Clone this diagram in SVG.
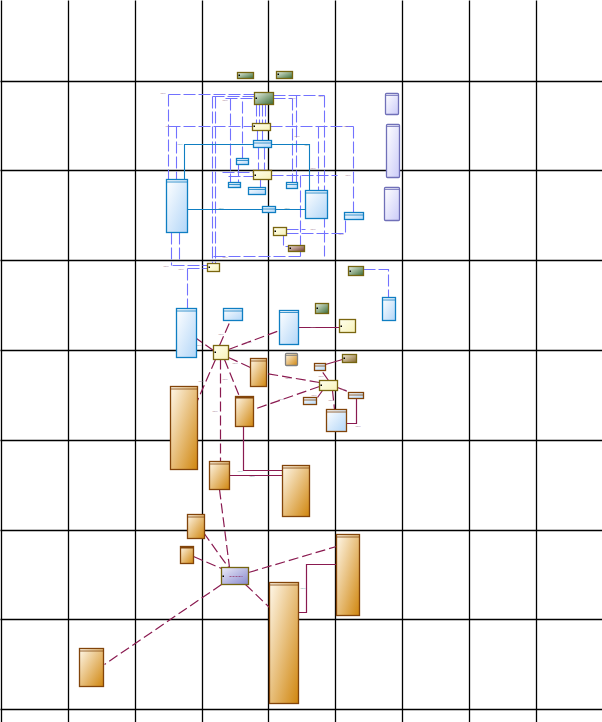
<svg xmlns="http://www.w3.org/2000/svg" width="602" height="722" viewBox="0 0 602 722">
<defs>
<linearGradient id="gBlue" x1="0" y1="0" x2="1" y2="1"><stop offset="0" stop-color="#ffffff"/><stop offset="1" stop-color="#b2d6f8"/></linearGradient>
<linearGradient id="gOrange" x1="0" y1="0" x2="1" y2="1"><stop offset="0" stop-color="#fff8ea"/><stop offset="1" stop-color="#d0860e"/></linearGradient>
<linearGradient id="gLav" x1="0" y1="0" x2="1" y2="1"><stop offset="0" stop-color="#ffffff"/><stop offset="1" stop-color="#cbcbf8"/></linearGradient>
<linearGradient id="gGreen" x1="0" y1="0" x2="1" y2="1"><stop offset="0" stop-color="#e8f0e2"/><stop offset="1" stop-color="#3a6a36"/></linearGradient>
<linearGradient id="gYellow" x1="0" y1="0" x2="1" y2="1"><stop offset="0" stop-color="#ffffee"/><stop offset="1" stop-color="#f7f2b8"/></linearGradient>
<linearGradient id="gOlive" x1="0" y1="0" x2="1" y2="1"><stop offset="0" stop-color="#f2ead6"/><stop offset="1" stop-color="#85662a"/></linearGradient>
<linearGradient id="gBrown" x1="0" y1="0" x2="1" y2="1"><stop offset="0" stop-color="#efe0d8"/><stop offset="1" stop-color="#6e3a2a"/></linearGradient>
<linearGradient id="gPurple" x1="0" y1="0" x2="1" y2="1"><stop offset="0" stop-color="#ececfa"/><stop offset="1" stop-color="#8888cc"/></linearGradient>
</defs>
<style>
.grid line{stroke:#000;stroke-width:1.3}
.blue{fill:url(#gBlue);stroke:#0f7ec2;stroke-width:1.3}
.orange{fill:url(#gOrange);stroke:#82440a;stroke-width:1.3}
.lav{fill:url(#gLav);stroke:#7070b8;stroke-width:1.3}
.green{fill:url(#gGreen);stroke:#756410;stroke-width:1.3}
.yellow{fill:url(#gYellow);stroke:#7a6610;stroke-width:1.3}
.olive{fill:url(#gOlive);stroke:#756410;stroke-width:1.3}
.brown{fill:url(#gBrown);stroke:#756410;stroke-width:1.3}
.purple{fill:url(#gPurple);stroke:#756410;stroke-width:1.3}
.bb{fill:url(#gBlue);stroke:#82440a;stroke-width:1.3}
.gray{fill:url(#gOrange);stroke:#808080;stroke-width:1.3}
.hb{stroke:#0f7ec2;stroke-width:0.8}
.ho{stroke:#82440a;stroke-width:0.8}
.hl{stroke:#7070b8;stroke-width:0.8}
.dot{fill:#000}
.cb{fill:none;stroke:#7272ff;stroke-width:1.1;stroke-dasharray:12,3}
.cs{fill:none;stroke:#0f7ec2;stroke-width:1.1}
.cm{fill:none;stroke:#8a1a50;stroke-width:1.2;stroke-dasharray:10,4}
.cms{fill:none;stroke:#8a1a50;stroke-width:1.2}
.lbl{font-family:"Liberation Sans",Arial,sans-serif;font-size:2.4px;fill:#a07890}
.lblt{font-family:"Liberation Sans",Arial,sans-serif;font-size:2.4px;fill:#6aa0a0}
</style>
<rect width="602" height="722" fill="#fff"/>
<g transform="translate(0.5,0.5)">
<g class="grid" id="grid">
<line x1="0" y1="81" x2="602" y2="81"/><line x1="0" y1="170" x2="602" y2="170"/><line x1="0" y1="260" x2="602" y2="260"/><line x1="0" y1="350" x2="602" y2="350"/><line x1="0" y1="440" x2="602" y2="440"/><line x1="0" y1="530" x2="602" y2="530"/><line x1="0" y1="619" x2="602" y2="619"/><line x1="0" y1="709" x2="602" y2="709"/>
<line x1="1" y1="0" x2="1" y2="722"/><line x1="68" y1="0" x2="68" y2="722"/><line x1="135" y1="0" x2="135" y2="722"/><line x1="202" y1="0" x2="202" y2="722"/><line x1="268" y1="0" x2="268" y2="722"/><line x1="335" y1="0" x2="335" y2="722"/><line x1="402" y1="0" x2="402" y2="722"/><line x1="469" y1="0" x2="469" y2="722"/><line x1="536" y1="0" x2="536" y2="722"/>
</g>
<g id="connectors">
<path class="cb" d="M168,94 H254 M212,96 H254 M225,98 H254 M273,95 H324 M273,98 H292 M168,126 H252 M270,126 H353 M271,175 H337 M222,172 H253 M228,176 H253 M286,229 H305 M286,233 H345 V219 M283,233 V246 H288 M213,256 H300 M172,265 H207 M187,268 H207"/>
<path class="cb" d="M168,94 V179 M176,126 V179 M215,96 V263 M212,96 V263 M230,98 V182 M242,101 V158 M256,104 V123 M259,104 V123 M262,104 V123 M265,104 V123 M257,130 V140 M262,130 V140 M258,147 V170 M264,147 V170 M260,179 V187 M292,98 V182 M296,95 V182 M318,126 V190 M324,95 V256 M353,126 V212 M300,175 V256 M171,232 V265 M179,232 V260 M187,268 V308 M238,164 V182"/>
<path class="cb" d="M363,269 H388 V297"/>
<path class="cs" d="M184,179 V144 H253 M271,144 H309 V190 M187,209 H262 M275,209 H305"/>
<path class="cm" d="M219,345 L230,320 M213,350 L196,338 M228,349 L279,330 M228,357 L250,367 M215,359 L197,400 M220,359 V461 M224,359 L239,396 M319,382 L266,373 M319,386 L253,409 M328,380 L321,370 M322,390 L317,397 M332,390 L334,409 M337,387 L350,392 M219,489 L229,567 M203,532 L228,567 M193,556 L221,568 M248,572 L336,546 M245,584 L269,607 M221,584 L104,664"/>
<path class="cms" d="M298,327 H339 M325,364 L342,359 M356,398 V423 H346 M243,426 V470 H282 M229,475 H282 M336,564 H306 V612 H298"/>
</g>
<g id="labels">
<text class="lbl" x="160" y="93">label</text><text class="lbl" x="222" y="100">label</text><text class="lbl" x="290" y="98">label</text><text class="lbl" x="318" y="96">label</text>
<text class="lbl" x="165" y="126">label</text><text class="lbl" x="294" y="136">label</text><text class="lbl" x="343" y="126">label</text><text class="lbl" x="310" y="168">label</text><text class="lbl" x="345" y="175">label</text>
<text class="lblt" x="177" y="144">label</text><text class="lblt" x="304" y="145">label</text><text class="lblt" x="218" y="208">label</text><text class="lblt" x="284" y="208">label</text>
<text class="lbl" x="228" y="184">label</text><text class="lbl" x="310" y="229">label</text><text class="lbl" x="338" y="234">label</text><text class="lbl" x="222" y="257">label</text>
<text class="lbl" x="163" y="266">label</text><text class="lbl" x="178" y="269">label</text>
<text class="lbl" x="218" y="334">label</text><text class="lbl" x="196" y="345">label</text><text class="lbl" x="246" y="342">label</text><text class="lbl" x="310" y="327">label</text>
<text class="lbl" x="198" y="381">label</text><text class="lbl" x="222" y="379">label</text><text class="lbl" x="232" y="363">label</text><text class="lbl" x="212" y="411">label</text>
<text class="lbl" x="285" y="378">label</text><text class="lbl" x="278" y="399">label</text><text class="lbl" x="318" y="376">label</text><text class="lbl" x="311" y="395">label</text><text class="lbl" x="340" y="389">label</text><text class="lbl" x="328" y="400">label</text><text class="lbl" x="355" y="426">label</text>
<text class="lblt" x="237" y="471">label</text><text class="lblt" x="249" y="476">label</text><text class="lblt" x="300" y="588">label</text>
</g>
<g id="G1"><rect class="green" x="237" y="72" width="16" height="6"/><rect class="dot" x="238" y="74" width="1.5" height="1.5"/></g>
<g id="G2"><rect class="green" x="276" y="71" width="16" height="7"/><rect class="dot" x="277" y="73" width="1.5" height="1.5"/></g>
<g id="G3"><rect class="green" x="254" y="92" width="19" height="12"/><rect class="dot" x="255" y="97" width="1.5" height="1.5"/></g>
<g id="G4"><rect class="green" x="348" y="266" width="15" height="9"/><rect class="dot" x="349" y="270" width="1.5" height="1.5"/></g>
<g id="G5"><rect class="green" x="315" y="303" width="13" height="10"/><rect class="dot" x="316" y="307" width="1.5" height="1.5"/></g>
<g id="Y1"><rect class="yellow" x="252" y="123" width="18" height="7"/><rect class="dot" x="253" y="125" width="1.5" height="1.5"/></g>
<g id="Y2"><rect class="yellow" x="253" y="170" width="18" height="9"/><rect class="dot" x="254" y="174" width="1.5" height="1.5"/></g>
<g id="Y3"><rect class="yellow" x="273" y="227" width="13" height="8"/><rect class="dot" x="274" y="230" width="1.5" height="1.5"/></g>
<g id="Y4"><rect class="yellow" x="207" y="263" width="12" height="8"/><rect class="dot" x="208" y="266" width="1.5" height="1.5"/></g>
<g id="Y5"><rect class="yellow" x="213" y="345" width="15" height="14"/><rect class="dot" x="214" y="351" width="1.5" height="1.5"/></g>
<g id="Y6"><rect class="yellow" x="339" y="319" width="16" height="13"/><rect class="dot" x="340" y="325" width="1.5" height="1.5"/></g>
<g id="Y7"><rect class="yellow" x="319" y="380" width="18" height="10"/><rect class="dot" x="320" y="384" width="1.5" height="1.5"/></g>
<g id="B1"><rect class="blue" x="253" y="140" width="18" height="7"/><line class="hb" x1="253" y1="142.5" x2="271" y2="142.5"/></g>
<g id="B2"><rect class="blue" x="236" y="158" width="12" height="6"/><line class="hb" x1="236" y1="160" x2="248" y2="160"/></g>
<g id="B3"><rect class="blue" x="166" y="179" width="21" height="53"/><line class="hb" x1="166" y1="181.5" x2="187" y2="181.5"/></g>
<g id="B4"><rect class="blue" x="228" y="182" width="12" height="5"/><line class="hb" x1="228" y1="184" x2="240" y2="184"/></g>
<g id="B5"><rect class="blue" x="248" y="187" width="17" height="7"/><line class="hb" x1="248" y1="189" x2="265" y2="189"/></g>
<g id="B6"><rect class="blue" x="262" y="206" width="13" height="6"/><line class="hb" x1="262" y1="208.5" x2="275" y2="208.5"/></g>
<g id="B7"><rect class="blue" x="286" y="182" width="11" height="6"/><line class="hb" x1="286" y1="184" x2="297" y2="184"/></g>
<g id="B8"><rect class="blue" x="305" y="190" width="22" height="28"/><line class="hb" x1="305" y1="192.5" x2="327" y2="192.5"/></g>
<g id="B9"><rect class="blue" x="344" y="212" width="19" height="7"/><line class="hb" x1="344" y1="214.5" x2="363" y2="214.5"/></g>
<g id="B10"><rect class="blue" x="176" y="308" width="20" height="49"/><line class="hb" x1="176" y1="310.5" x2="196" y2="310.5"/></g>
<g id="B11"><rect class="blue" x="223" y="308" width="19" height="12"/><line class="hb" x1="223" y1="310.5" x2="242" y2="310.5"/></g>
<g id="B12"><rect class="blue" x="279" y="310" width="19" height="34"/><line class="hb" x1="279" y1="312" x2="298" y2="312"/></g>
<g id="B13"><rect class="blue" x="382" y="297" width="13" height="23"/><line class="hb" x1="382" y1="299.5" x2="395" y2="299.5"/></g>
<g id="L1"><rect class="lav" x="385" y="93" width="13" height="21" rx="1"/><line class="hl" x1="385" y1="95" x2="398" y2="95"/></g>
<g id="L2"><rect class="lav" x="386" y="124" width="13" height="53" rx="1"/><line class="hl" x1="386" y1="126" x2="399" y2="126"/></g>
<g id="L3"><rect class="lav" x="384" y="187" width="15" height="33" rx="1"/><line class="hl" x1="384" y1="189" x2="399" y2="189"/></g>
<g id="BB1"><rect class="bb" x="314" y="363" width="11" height="7"/><line class="ho" x1="314" y1="365.5" x2="325" y2="365.5"/></g>
<g id="BB2"><rect class="bb" x="303" y="397" width="13" height="7"/><line class="ho" x1="303" y1="399.5" x2="316" y2="399.5"/></g>
<g id="BB3"><rect class="bb" x="348" y="392" width="15" height="6"/><line class="ho" x1="348" y1="394.5" x2="363" y2="394.5"/></g>
<g id="BB4"><rect class="bb" x="326" y="409" width="20" height="22"/><line class="ho" x1="326" y1="411.5" x2="346" y2="411.5"/></g>
<g id="O1"><rect class="brown" x="288" y="245" width="16" height="6"/><rect class="dot" x="289" y="247" width="1.5" height="1.5"/></g>
<g id="O2"><rect class="olive" x="342" y="354" width="14" height="8"/><rect class="dot" x="343" y="357" width="1.5" height="1.5"/></g>
<g id="GR1"><rect class="gray" x="285" y="353" width="12" height="12" rx="1"/><line x1="285" y1="355" x2="297" y2="355" stroke="#808080" stroke-width="0.8"/></g>
<g id="OR1"><rect class="orange" x="170" y="386" width="27" height="83"/><line class="ho" x1="170" y1="388.5" x2="197" y2="388.5"/></g>
<g id="OR2"><rect class="orange" x="250" y="358" width="16" height="28"/><line class="ho" x1="250" y1="360.5" x2="266" y2="360.5"/></g>
<g id="OR3"><rect class="orange" x="235" y="396" width="18" height="30"/><rect x="235" y="396" width="18" height="2" fill="#82440a"/></g>
<g id="OR4"><rect class="orange" x="209" y="461" width="20" height="28"/><line class="ho" x1="209" y1="463.5" x2="229" y2="463.5"/></g>
<g id="OR5"><rect class="orange" x="282" y="465" width="27" height="51"/><line class="ho" x1="282" y1="467.5" x2="309" y2="467.5"/></g>
<g id="OR6"><rect class="orange" x="187" y="514" width="17" height="24"/><line class="ho" x1="187" y1="516.5" x2="204" y2="516.5"/></g>
<g id="OR7"><rect class="orange" x="180" y="546" width="13" height="17"/><rect x="180" y="546" width="13" height="2" fill="#82440a"/></g>
<g id="OR8"><rect class="orange" x="336" y="534" width="23" height="81"/><line class="ho" x1="336" y1="536.5" x2="359" y2="536.5"/></g>
<g id="OR9"><rect class="orange" x="269" y="582" width="29" height="121"/><line class="ho" x1="269" y1="584.5" x2="298" y2="584.5"/></g>
<g id="OR10"><rect class="orange" x="79" y="648" width="24" height="38"/><line class="ho" x1="79" y1="650.5" x2="103" y2="650.5"/></g>
<g id="P1"><rect class="purple" x="221" y="567" width="27" height="17"/><rect class="dot" x="222" y="575" width="1.5" height="1.5"/><line x1="229" y1="576" x2="242" y2="576" stroke="#8a1a50" stroke-width="0.6" stroke-dasharray="2,1"/></g>
</g>
</svg>
